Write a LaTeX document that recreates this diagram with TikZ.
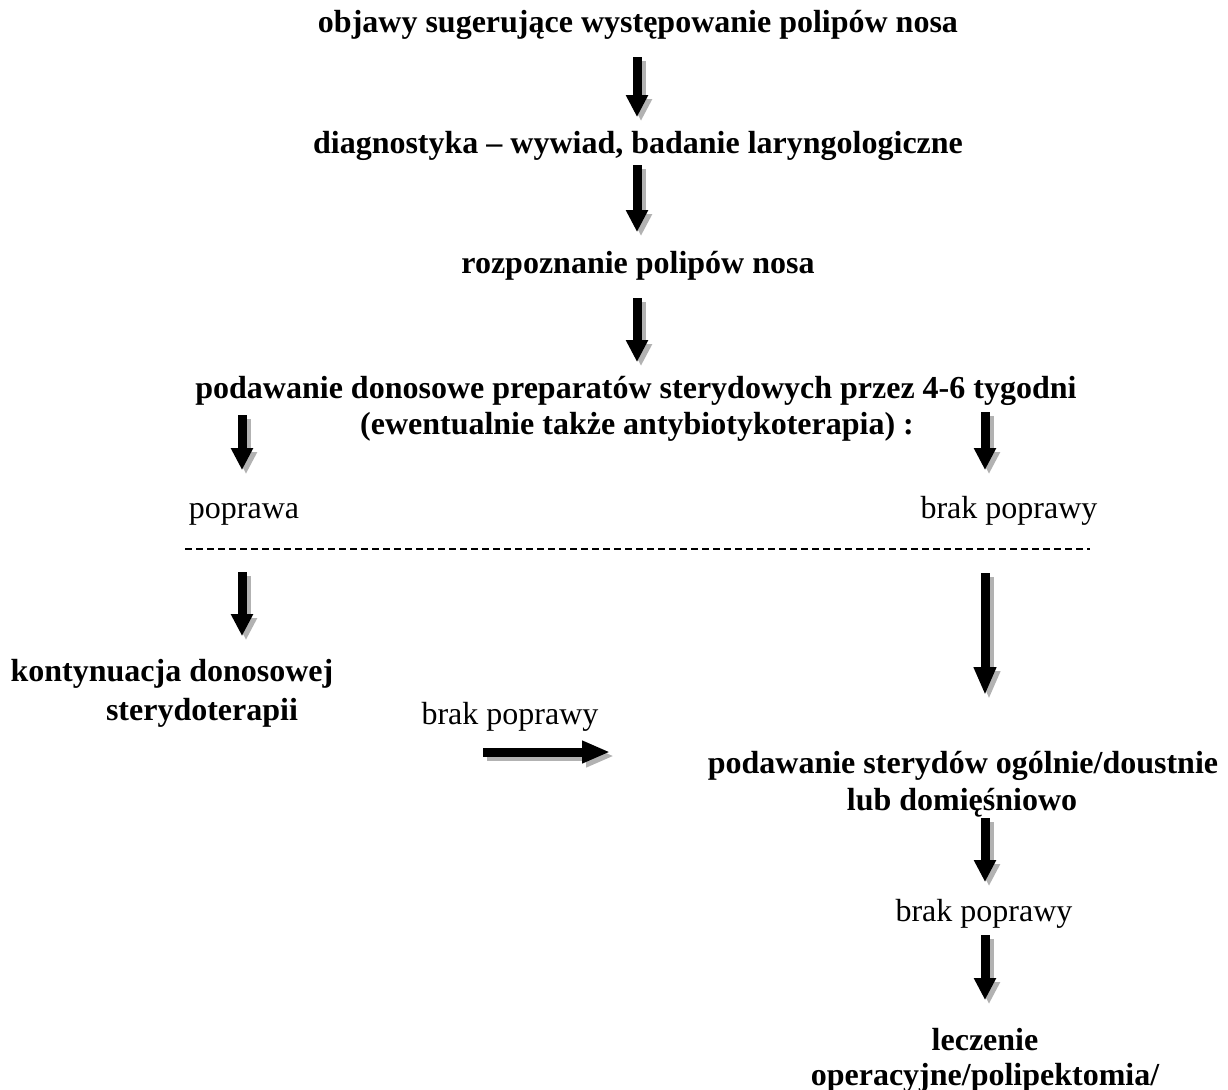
\documentclass[tikz,border=0pt]{standalone}
\usepackage{fontspec}
\setmainfont{Liberation Serif}
\usetikzlibrary{arrows.meta}
\begin{document}
\begin{tikzpicture}[x=0.5pt,y=-0.5pt,
  lbl/.style={inner sep=0pt, anchor=base, font=\fontsize{16}{18}\selectfont},
  blbl/.style={inner sep=0pt, anchor=base, font=\fontsize{16}{18}\selectfont\bfseries},
  barrow/.style={line width=4.5pt, -{Triangle[length=11pt,width=10.5pt]}},
  longhead/.style={-{Triangle[length=14pt,width=10.5pt]}},
  sharrow/.style={draw=black!30, fill=black!30},
  ]
\useasboundingbox (0,0) rectangle (1228,1089);
% texts
\node[blbl] (t1) at (638,32) {objawy sugerujące występowanie polipów nosa};
\node[blbl] (t2) at (638,153) {diagnostyka – wywiad, badanie laryngologiczne};
\node[blbl] (t3) at (638,273) {rozpoznanie polipów nosa};
\node[blbl] (t4a) at (636,398) {podawanie donosowe preparatów sterydowych przez 4-6 tygodni};
\node[blbl] (t4b) at (637,434) {(ewentualnie także antybiotykoterapia) :};
\node[lbl] (p1) at (244,518) {poprawa};
\node[lbl] (p2) at (1009,518) {brak poprawy};
\node[blbl] (k1) at (172,681) {kontynuacja donosowej};
\node[blbl] (k2) at (202,720) {sterydoterapii};
\node[lbl] (bp) at (510,724) {brak poprawy};
\node[blbl] (s1) at (963,773) {podawanie sterydów ogólnie/doustnie};
\node[blbl] (s2) at (962,810) {lub domięśniowo};
\node[lbl] (bp2) at (984,921) {brak poprawy};
\node[blbl] (l1) at (985,1050) {leczenie};
\node[blbl] (l2) at (985,1085) {operacyjne/polipektomia/};
% dashed separator
\coordinate (dl) at (185,549);
\coordinate (dr) at (1090,549);
\draw[line width=1pt, dash pattern=on 3.5pt off 2pt] (dl) -- (dr);
% arrow end points
\coordinate (a1s) at (637,57);  \coordinate (a1e) at (637,117);
\coordinate (a2s) at (637,165); \coordinate (a2e) at (637,232);
\coordinate (a3s) at (637,298); \coordinate (a3e) at (637,362);
\coordinate (a4s) at (242,415); \coordinate (a4e) at (242,470);
\coordinate (a5s) at (985,412); \coordinate (a5e) at (985,470);
\coordinate (a6s) at (242,572); \coordinate (a6e) at (242,636);
\coordinate (a9s) at (985,818); \coordinate (a9e) at (985,882);
\coordinate (a10s) at (985,935); \coordinate (a10e) at (985,1000);
\coordinate (a7s) at (985,573); \coordinate (a7e) at (985,695);
\coordinate (a8s) at (483,752); \coordinate (a8e) at (610,752);
\foreach \a in {a1,a2,a3,a4,a5,a6,a9,a10}{
  \draw[barrow, sharrow, transform canvas={xshift=2pt,yshift=-2pt}] (\a s) -- (\a e);
  \draw[barrow] (\a s) -- (\a e);
}
\foreach \a in {a7,a8}{
  \draw[barrow, longhead, sharrow, transform canvas={xshift=2pt,yshift=-2pt}] (\a s) -- (\a e);
  \draw[barrow, longhead] (\a s) -- (\a e);
}
\end{tikzpicture}
\end{document}
